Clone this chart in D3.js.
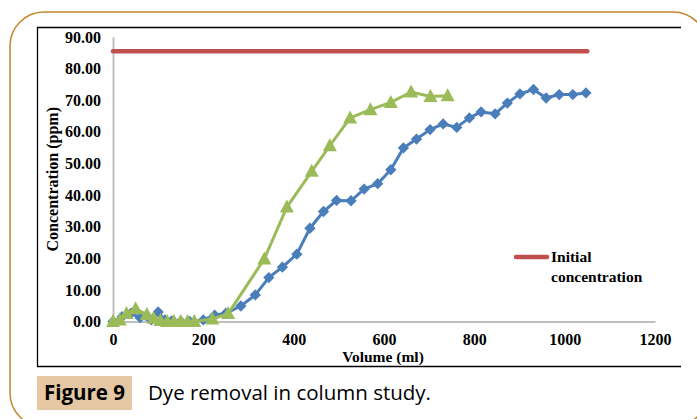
<!DOCTYPE html>
<html><head><meta charset="utf-8">
<script src="https://cdn.jsdelivr.net/npm/d3@7/dist/d3.min.js"></script>
<style>
html,body{margin:0;padding:0;background:#fff;}
svg{display:block;}
</style></head>
<body>
<svg id="chart" width="697" height="419"></svg>
<script>
// ---- data ----
const blueX = [0,20,40,60,85,100,115,130,150,170,200,225,250,283,315,345,375,407,436,466,495,527,556,586,615,643,672,702,731,761,789,815,846,873,901,931,959,988,1018,1047];
const blueY = [0,1.5,2.6,1.2,0.5,3.0,0.5,0.2,0,0,0.5,2.0,2.6,4.9,8.4,13.9,17.2,21.3,29.5,34.8,38.3,38.2,41.9,43.6,48.0,54.9,57.7,60.7,62.5,61.4,64.4,66.3,65.7,69.1,72.0,73.4,70.7,71.8,71.8,72.3];
const greenX = [0,15,30,50,75,90,105,120,135,150,165,180,220,255,335,385,440,480,525,570,615,660,703,741];
const greenY = [0,0.5,2.5,4.0,2.2,1.0,0.3,0,0,0,0,0,0.8,2.5,19.8,36.2,47.5,55.6,64.4,67.0,69.3,72.6,71.2,71.4];
const initX = [0,1050];
const initY = [85.5,85.5];
const yTicks = [0,10,20,30,40,50,60,70,80,90];
const xTicks = [0,200,400,600,800,1000,1200];
const legendLabel = ["Initial","concentration"];
const xTitle = "Volume (ml)";
const yTitle = "Concentration (ppm)";
const figLabel = "Figure 9";
const figCaption = "Dye removal in column study.";

const svg = d3.select("#chart");
const serif = "'Liberation Serif','Times New Roman',serif";

// outer rounded frame
svg.append("rect").attr("x",10).attr("y",12).attr("width",697).attr("height",415)
  .attr("rx",34).attr("ry",34).attr("fill","none").attr("stroke","#c4842e").attr("stroke-width",1.5);

// chart frame (top, left, bottom)
svg.append("path").attr("d","M681,27.5 H37.5 V366.5 H681")
  .attr("fill","none").attr("stroke","#000").attr("stroke-width",1.3);

const x = d3.scaleLinear().domain([0,1200]).range([113,655]);
const y = d3.scaleLinear().domain([0,90]).range([321.5,37]);

// axes
const yAxis = d3.axisLeft(y).tickValues(yTicks).tickFormat(d3.format(".2f")).tickSize(0).tickPadding(12);
const gy = svg.append("g").attr("transform",`translate(${x(0)},0)`).call(yAxis);
gy.select(".domain").attr("stroke","#bfbfbf").attr("stroke-width",2);
gy.selectAll("text").attr("font-family",serif).attr("font-weight","bold").attr("font-size",16).attr("fill","#000");

const xAxis = d3.axisBottom(x).tickValues(xTicks).tickFormat(d3.format("d")).tickSize(0).tickPadding(12);
const gx = svg.append("g").attr("transform",`translate(0,${y(0)})`).call(xAxis);
gx.select(".domain").attr("stroke","#bfbfbf").attr("stroke-width",2);
gx.selectAll("text").attr("font-family",serif).attr("font-weight","bold").attr("font-size",16).attr("fill","#000");

// axis titles
svg.append("text").attr("transform",`translate(52,${(y(0)+y(90))/2}) rotate(-90)`)
  .attr("text-anchor","middle").attr("dominant-baseline","central")
  .attr("font-family",serif).attr("font-weight","bold").attr("font-size",16).text(yTitle);
svg.append("text").attr("x",383).attr("y",362).attr("text-anchor","middle")
  .attr("font-family",serif).attr("font-weight","bold").attr("font-size",15.5).text(xTitle);

const line = d3.line().x(d=>x(d[0])).y(d=>y(d[1]));

// initial concentration
const initData = initX.map((v,i)=>[v,initY[i]]);
svg.append("path").datum(initData).attr("d",line).attr("fill","none")
  .attr("stroke","#c0504d").attr("stroke-width",4.5).attr("stroke-linecap","round");

// blue series
const blueData = blueX.map((v,i)=>[v,blueY[i]]);
svg.append("path").datum(blueData).attr("d",line).attr("fill","none")
  .attr("stroke","#4a7ebb").attr("stroke-width",3).attr("stroke-linejoin","round");
svg.append("g").selectAll("path").data(blueData).join("path")
  .attr("d",d3.symbol(d3.symbolSquare,64))
  .attr("transform",d=>`translate(${x(d[0])},${y(d[1])}) rotate(45)`)
  .attr("fill","#4a7ebb");

// green series
const greenData = greenX.map((v,i)=>[v,greenY[i]]);
svg.append("path").datum(greenData).attr("d",line).attr("fill","none")
  .attr("stroke","#9bbb59").attr("stroke-width",3).attr("stroke-linejoin","round");
svg.append("g").selectAll("path").data(greenData).join("path")
  .attr("transform",d=>`translate(${x(d[0])},${y(d[1])})`)
  .attr("d","M0,-7.5 L7,5.5 L-7,5.5 Z")
  .attr("fill","#9bbb59");

// legend
svg.append("line").attr("x1",516).attr("x2",547).attr("y1",257).attr("y2",257)
  .attr("stroke","#c0504d").attr("stroke-width",4.5).attr("stroke-linecap","round");
svg.append("text").attr("font-family",serif).attr("font-weight","bold").attr("font-size",15.5)
  .selectAll("tspan").data(legendLabel).join("tspan")
  .attr("x",551).attr("y",(d,i)=>262+i*20).text(d=>d);

// caption
svg.append("rect").attr("x",37).attr("y",376).attr("width",95).attr("height",34).attr("fill","#e5c8a3");
svg.append("text").attr("x",84.5).attr("y",400).attr("text-anchor","middle")
  .attr("font-family","'Open Sans',sans-serif").attr("font-weight","bold").attr("font-size",20.5).text(figLabel);
svg.append("text").attr("x",148).attr("y",400)
  .attr("font-family","'Open Sans',sans-serif").attr("font-size",20.5).text(figCaption);
</script>
</body></html>
